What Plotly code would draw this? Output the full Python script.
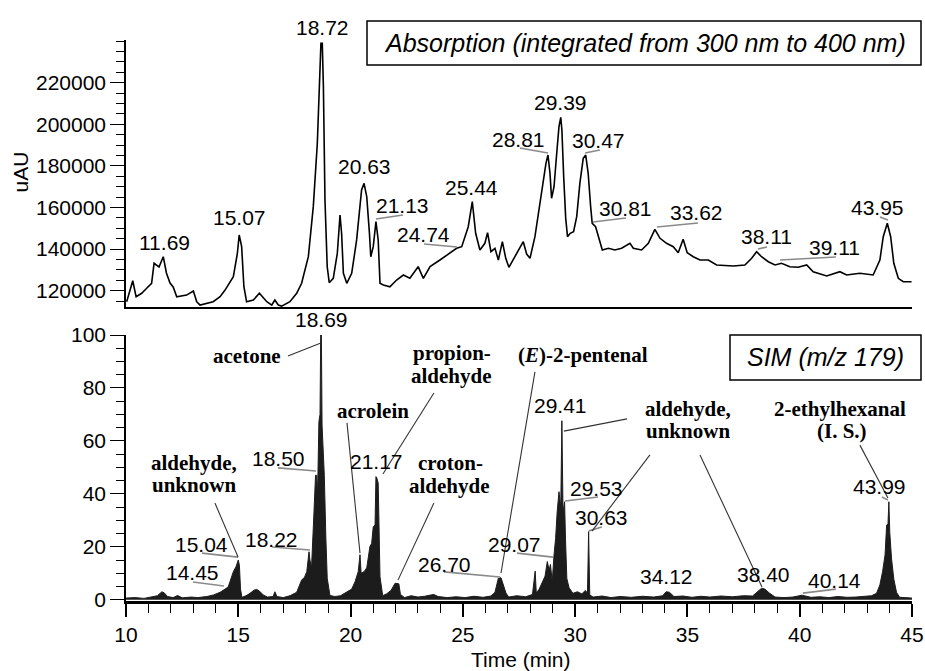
import plotly.graph_objects as go

# ---------------- data ----------------
abs_time = [10.03, 10.30, 10.45, 10.70, 10.92, 11.14, 11.25, 11.47, 11.66, 11.80, 11.96, 12.10, 12.26, 12.70,
            13.00, 13.15, 13.30, 13.88, 14.19, 14.41, 14.78, 14.96, 15.04, 15.15, 15.25, 15.37, 15.67, 15.94,
            16.27, 16.49, 16.63, 16.78, 16.93, 17.30, 17.60, 17.82, 18.12, 18.34, 18.52, 18.61, 18.68, 18.74,
            18.79, 18.86, 18.96, 19.05, 19.23, 19.41, 19.53, 19.60, 19.68, 19.83, 20.05, 20.27, 20.49, 20.60,
            20.72, 20.84, 20.90, 21.01, 21.13, 21.23, 21.31, 21.46, 21.75, 22.05, 22.35, 22.64, 23.01, 23.24,
            23.54, 23.98, 24.43, 24.72, 24.95, 25.24, 25.42, 25.57, 25.76, 25.98, 26.10, 26.25, 26.43, 26.58,
            26.76, 26.91, 27.05, 27.32, 27.54, 27.69, 27.84, 27.99, 28.21, 28.39, 28.58, 28.70, 28.79, 28.88,
            28.95, 29.06, 29.18, 29.28, 29.36, 29.41, 29.49, 29.58, 29.66, 29.78, 29.93, 30.07, 30.21, 30.36,
            30.47, 30.58, 30.69, 30.76, 30.91, 31.06, 31.21, 31.48, 31.77, 32.07, 32.44, 32.59, 32.96, 33.26,
            33.48, 33.55, 33.78, 34.07, 34.37, 34.59, 34.81, 34.99, 35.26, 35.56, 35.93, 36.30, 37.04, 37.56,
            37.86, 38.08, 38.30, 38.60, 38.90, 39.19, 39.56, 39.93, 40.31, 40.60, 41.20, 41.79, 42.09, 42.68,
            43.27, 43.57, 43.72, 43.90, 44.05, 44.19, 44.39, 44.61, 44.98]
abs_uau = [114700, 124800, 117100, 118750, 121150, 123550, 133170, 131400, 136350, 128500, 123700, 121800,
           117100, 117900, 119850, 114700, 113100, 114700, 117100, 120300, 126700, 138000, 146800, 141150,
           121900, 114700, 115500, 118750, 114700, 113100, 115500, 113100, 112600, 114700, 118750, 123550,
           136350, 160400, 190850, 217300, 238900, 238900, 218100, 163600, 131500, 123850, 125950, 138000,
           156400, 147600, 128350, 123550, 128350, 144400, 168400, 171600, 165200, 147600, 136350, 141150,
           153200, 144400, 123550, 122750, 121900, 125150, 127550, 125950, 131550, 125950, 131550, 134750,
           137980, 140380, 141150, 150770, 162800, 147600, 139570, 142790, 147900, 138750, 140380, 134760,
           143560, 135580, 131250, 136350, 141150, 143560, 137640, 135580, 145960, 158800, 173220, 181250,
           185240, 176440, 164420, 170000, 186060, 198850, 203370, 197260, 174800, 154800, 145960, 147600,
           148370, 155580, 171630, 183630, 185240, 176440, 160400, 152400, 150770, 145190, 139570, 140380,
           139570, 140380, 142790, 140380, 139570, 142790, 148370, 149520, 145190, 142790, 141150, 138270,
           144710, 138270, 136350, 134760, 134760, 132360, 131880, 132360, 135580, 138750, 136350, 133940,
           132360, 133170, 131540, 131250, 132360, 129130, 127070, 129130, 127550, 128350, 127550, 134760,
           145960, 152400, 145960, 133170, 125960, 124330, 124330]

sim_time = [10.00, 10.40, 10.80, 11.10, 11.40, 11.60, 11.70, 11.85, 12.10, 12.30, 12.50, 12.90, 13.20, 13.60,
            13.90, 14.19, 14.41, 14.55, 14.63, 14.78, 14.90, 15.00, 15.05, 15.10, 15.16, 15.35, 15.52, 15.70,
            15.82, 15.95, 16.11, 16.30, 16.55, 16.63, 16.72, 17.00, 17.30, 17.60, 17.82, 17.95, 18.05, 18.15,
            18.19, 18.26, 18.37, 18.44, 18.49, 18.53, 18.59, 18.64, 18.67, 18.70, 18.73, 18.79, 18.83, 18.90,
            18.96, 19.08, 19.30, 19.55, 19.83, 20.05, 20.20, 20.34, 20.42, 20.47, 20.60, 20.72, 20.86, 20.94,
            21.01, 21.09, 21.13, 21.17, 21.23, 21.28, 21.31, 21.43, 21.60, 21.80, 21.98, 22.15, 22.22, 22.40,
            22.70, 23.00, 23.30, 23.70, 23.90, 24.30, 24.70, 25.10, 25.50, 25.90, 26.25, 26.43, 26.58, 26.70,
            26.80, 26.92, 27.04, 27.40, 27.80, 28.10, 28.22, 28.27, 28.40, 28.51, 28.66, 28.76, 28.84, 28.90,
            28.98, 29.06, 29.13, 29.20, 29.28, 29.36, 29.41, 29.46, 29.53, 29.57, 29.63, 29.73, 29.90, 30.10,
            30.30, 30.45, 30.55, 30.60, 30.65, 30.80, 31.20, 31.60, 32.00, 32.50, 33.00, 33.50, 33.90, 34.05,
            34.20, 34.40, 34.80, 35.20, 35.60, 36.00, 36.50, 37.00, 37.50, 37.90, 38.10, 38.30, 38.45, 38.65,
            38.90, 39.30, 39.70, 40.10, 40.20, 40.50, 40.90, 41.30, 41.70, 42.10, 42.50, 42.90, 43.20, 43.42,
            43.57, 43.69, 43.80, 43.87, 43.93, 43.97, 44.01, 44.09, 44.19, 44.31, 44.45, 44.70, 45.00]
sim_abund = [0.6, 0.8, 0.5, 1.0, 1.5, 3.0, 2.6, 1.2, 0.8, 1.6, 0.7, 1.0, 0.8, 1.2,
             1.8, 2.8, 4.0, 4.8, 6.8, 10.6, 12.5, 15.0, 13.0, 4.0, 0.9, 1.5, 2.4, 3.6,
             3.9, 3.2, 1.8, 1.0, 1.2, 3.0, 1.2, 0.8, 1.5, 2.8, 7.4, 8.5, 10.6, 18.1,
             15.0, 12.0, 33.0, 47.0, 47.0, 39.6, 67.3, 70.0, 100.0, 100.0, 66.0, 57.2, 47.0, 23.2,
             8.1, 1.6, 1.2, 1.5, 2.8, 4.0, 6.8, 10.6, 17.0, 10.0, 10.6, 12.0, 20.0, 21.3,
             27.6, 28.2, 46.5, 46.0, 44.0, 20.0, 8.7, 1.5, 2.2, 3.5, 6.2, 6.0, 2.0, 0.8,
             1.5, 1.0, 1.3, 2.0, 1.2, 0.8, 1.1, 0.8, 1.3, 0.9, 1.4, 2.8, 8.1, 8.3,
             6.0, 2.5, 1.0, 1.5, 1.1, 2.0, 10.8, 2.5, 4.0, 6.4, 8.9, 14.4, 11.2, 13.3,
             6.8, 16.9, 23.2, 33.2, 40.8, 35.0, 67.6, 33.0, 37.0, 23.0, 8.0, 4.5, 2.4, 3.0,
             2.2, 3.5, 2.5, 25.7, 1.8, 1.0, 1.4, 0.8, 1.2, 0.9, 1.3, 1.0, 1.5, 3.0,
             2.8, 1.2, 1.4, 0.9, 1.3, 1.0, 1.4, 1.1, 1.5, 1.4, 2.8, 4.3, 4.0, 2.5,
             1.0, 0.8, 1.0, 1.7, 1.5, 0.9, 1.1, 0.8, 1.2, 0.9, 1.0, 1.2, 1.5, 2.4,
             5.6, 10.6, 16.9, 28.2, 28.5, 37.0, 25.4, 15.4, 7.8, 2.8, 0.9, 0.8, 0.6]

# tick values
abs_tickvals = [120000, 140000, 160000, 180000, 200000, 220000]
sim_tickvals = [0, 20, 40, 60, 80, 100]
time_tickvals = [10, 15, 20, 25, 30, 35, 40, 45]

# peak-time labels (text, label time, label value, leader from (t,v) to (t,v) or None)
abs_labels = [
    ("11.69", 11.71, 143400, None),
    ("15.07", 15.05, 154950, None),
    ("20.63", 20.62, 179470, None),
    ("21.13", 22.31, 160720, (21.13, 154470, 22.33, 156390)),
    ("24.74", 23.25, 146780, (23.27, 142450, 24.74, 141010)),
    ("25.44", 25.38, 169620, None),
    ("28.81", 27.48, 192450, (27.54, 188610, 28.79, 186200)),
    ("29.39", 29.37, 210480, None),
    ("30.47", 31.06, 191970, (30.44, 186200, 31.10, 187640)),
    ("30.81", 32.22, 159280, (30.79, 153030, 32.26, 154950)),
    ("33.62", 35.42, 157360, (33.64, 150630, 35.47, 152550)),
    ("38.11", 38.50, 145820, (38.14, 140050, 38.54, 141010)),
    ("39.11", 41.57, 140530, (39.12, 134760, 41.61, 136200)),
    ("43.95", 43.48, 160000, (43.57, 155430, 43.93, 153990)),
]
sim_labels = [
    ("18.50", 16.79, 53.5, (16.77, 49.8, 18.46, 48.6)),
    ("18.22", 16.50, 22.9, (16.50, 19.9, 18.19, 18.8)),
    ("15.04", 13.38, 20.9, (13.38, 17.6, 14.99, 16.1)),
    ("14.45", 12.98, 10.1, (12.98, 6.7, 14.36, 5.2)),
    ("21.17", 21.15, 52.2, None),
    ("26.70", 24.18, 13.3, (24.16, 10.5, 26.65, 8.6)),
    ("29.41", 29.35, 73.4, None),
    ("29.53", 30.97, 42.2, (29.55, 37.3, 31.02, 38.8)),
    ("30.63", 31.17, 31.1, (30.61, 26.0, 31.19, 27.5)),
    ("29.07", 27.32, 20.7, (27.41, 17.6, 29.01, 16.1)),
    ("34.12", 34.07, 8.8, None),
    ("38.40", 38.38, 9.5, None),
    ("40.14", 41.57, 7.3, (40.14, 2.5, 41.61, 4.0)),
    ("43.99", 43.55, 42.8, (43.66, 38.8, 43.93, 37.7)),
]
# labels of the two tallest peaks, sitting above the plot areas (time, pixel row)
top_peak_labels = [("18.72", 18.73, 27, "x"), ("18.69", 18.70, 320, "x2")]

# compound names (text, time, value)
compound_text = [
    ("acetone", 15.41, 92.1),
    ("aldehyde,", 13.05, 51.8), ("unknown", 13.05, 43.2),
    ("acrolein", 21.00, 71.3),
    ("propion-", 24.51, 93.1), ("aldehyde", 24.49, 84.6),
    ("croton-", 24.43, 51.6), ("aldehyde", 24.40, 43.0),
    ("(<i>E</i>)-2-pentenal", 30.35, 92.4),
    ("aldehyde,", 35.04, 72.1), ("unknown", 35.04, 63.6),
    ("2-ethylhexanal", 41.81, 72.1), ("(I. S.)", 41.88, 63.6),
]
compound_leaders = [
    (17.21, 92.1, 18.65, 96.9),
    (13.96, 36.5, 14.99, 16.1),
    (19.84, 66.8, 20.42, 17.6),
    (23.71, 78.1, 21.44, 47.5),
    (23.71, 36.5, 22.11, 7.4),
    (28.21, 86.1, 26.70, 10.1),
    (32.31, 68.3, 29.50, 63.7),
    (33.33, 54.7, 30.75, 25.9),
    (35.56, 54.7, 38.32, 4.8),
    (42.68, 58.4, 43.93, 38.4),
]

# ---------------- figure ----------------
W, H = 925, 671
SANS = "Liberation Sans, Arial, sans-serif"
SERIF = "Liberation Serif, Times New Roman, serif"
xdom = [126 / W, 912 / W]
top_dom = [1 - 307 / H, 1 - 40 / H]
bot_dom = [1 - 601 / H, 1 - 335 / H]

fig = go.Figure()
fig.add_trace(go.Scatter(x=abs_time, y=abs_uau, mode="lines", xaxis="x", yaxis="y",
                         line=dict(color="black", width=1.6), showlegend=False, hoverinfo="skip"))
fig.add_trace(go.Scatter(x=sim_time, y=sim_abund, mode="lines", xaxis="x2", yaxis="y2",
                         fill="tozeroy", fillcolor="#1c1c1c",
                         line=dict(color="#1c1c1c", width=1), showlegend=False, hoverinfo="skip"))

axis_common = dict(showgrid=False, zeroline=False, linecolor="black", color="black",
                   tickfont=dict(family=SANS, size=21, color="black"), automargin=False)

fig.update_layout(
    width=W, height=H, template="none",
    paper_bgcolor="white", plot_bgcolor="white",
    margin=dict(l=0, r=0, t=0, b=0),
    showlegend=False,
    xaxis=dict(domain=xdom, range=[10, 45], anchor="y", showline=True, linewidth=2,
               ticks="", showticklabels=False, **axis_common),
    yaxis=dict(domain=top_dom, range=[112163, 240529], anchor="x", showline=True, linewidth=1.5,
               tickvals=abs_tickvals, ticktext=[str(v) for v in abs_tickvals],
               ticks="outside", ticklen=14, tickwidth=1.3, tickcolor="black",
               minor=dict(dtick=5000, tick0=0, ticks="outside", ticklen=8, tickwidth=1.3, tickcolor="black"),
               **axis_common),
    xaxis2=dict(domain=xdom, range=[10, 45], anchor="y2", showline=True, linewidth=2.5,
                tickvals=time_tickvals, ticks="outside", ticklen=13, tickwidth=1.5, tickcolor="black",
                minor=dict(dtick=1, tick0=10, ticks="outside", ticklen=9, tickwidth=1.3, tickcolor="black"),
                **axis_common),
    yaxis2=dict(domain=bot_dom, range=[-0.49, 100], anchor="x2", showline=True, linewidth=1.5,
                tickvals=sim_tickvals, ticks="outside", ticklen=14, tickwidth=1.3, tickcolor="black",
                minor=dict(dtick=5, tick0=0, ticks="outside", ticklen=8, tickwidth=1.3, tickcolor="black"),
                **axis_common),
)

annotations = []
shapes = []
C = dict(xanchor="center", yanchor="middle", showarrow=False)

for text, t, v, lead in abs_labels:
    annotations.append(dict(text=text, x=t, y=v, xref="x", yref="y",
                            font=dict(family=SANS, size=21, color="black"), **C))
    if lead:
        shapes.append(dict(type="line", xref="x", yref="y", x0=lead[0], y0=lead[1], x1=lead[2], y1=lead[3],
                           line=dict(color="#8a8a8a", width=1.6)))
for text, t, v, lead in sim_labels:
    annotations.append(dict(text=text, x=t, y=v, xref="x2", yref="y2",
                            font=dict(family=SANS, size=21, color="black"), **C))
    if lead:
        shapes.append(dict(type="line", xref="x2", yref="y2", x0=lead[0], y0=lead[1], x1=lead[2], y1=lead[3],
                           line=dict(color="#8a8a8a", width=1.6)))
for text, t, row, xr in top_peak_labels:
    annotations.append(dict(text=text, x=t, y=1 - row / H, xref=xr, yref="paper",
                            font=dict(family=SANS, size=21, color="black"), **C))
for text, t, v in compound_text:
    annotations.append(dict(text="<b>" + text + "</b>", x=t, y=v, xref="x2", yref="y2",
                            font=dict(family=SERIF, size=21, color="black"), **C))
for t0, v0, t1, v1 in compound_leaders:
    shapes.append(dict(type="line", xref="x2", yref="y2", x0=t0, y0=v0, x1=t1, y1=v1,
                       line=dict(color="#333333", width=1.1)))

# legend-like boxes
shapes.append(dict(type="rect", xref="paper", yref="paper", x0=367 / W, x1=921 / W,
                   y0=1 - 65 / H, y1=1 - 21 / H, line=dict(color="black", width=1.5), fillcolor="white"))
annotations.append(dict(text="<i>Absorption (integrated from 300 nm to 400 nm)</i>", x=645 / W, y=1 - 43 / H,
                        xref="paper", yref="paper",
                        font=dict(family=SANS, size=25, color="black"), **C))
shapes.append(dict(type="rect", xref="paper", yref="paper", x0=730 / W, x1=921 / W,
                   y0=1 - 380 / H, y1=1 - 335 / H, line=dict(color="black", width=1.5), fillcolor="white"))
annotations.append(dict(text="<i>SIM (m/z 179)</i>", x=825 / W, y=1 - 357 / H,
                        xref="paper", yref="paper",
                        font=dict(family=SANS, size=25, color="black"), **C))

# axis titles
annotations.append(dict(text="uAU", x=20.5 / W, y=1 - 172 / H, xref="paper", yref="paper",
                        textangle=-90, font=dict(family=SANS, size=21, color="black"), **C))
annotations.append(dict(text="Time (min)", x=521 / W, y=1 - 659 / H, xref="paper", yref="paper",
                        font=dict(family=SANS, size=21, color="black"), **C))

fig.update_layout(annotations=annotations, shapes=shapes)
fig.write_html("out.html", config={"displayModeBar": False},
               post_script="document.body.style.margin='0';document.body.style.overflow='hidden';")
